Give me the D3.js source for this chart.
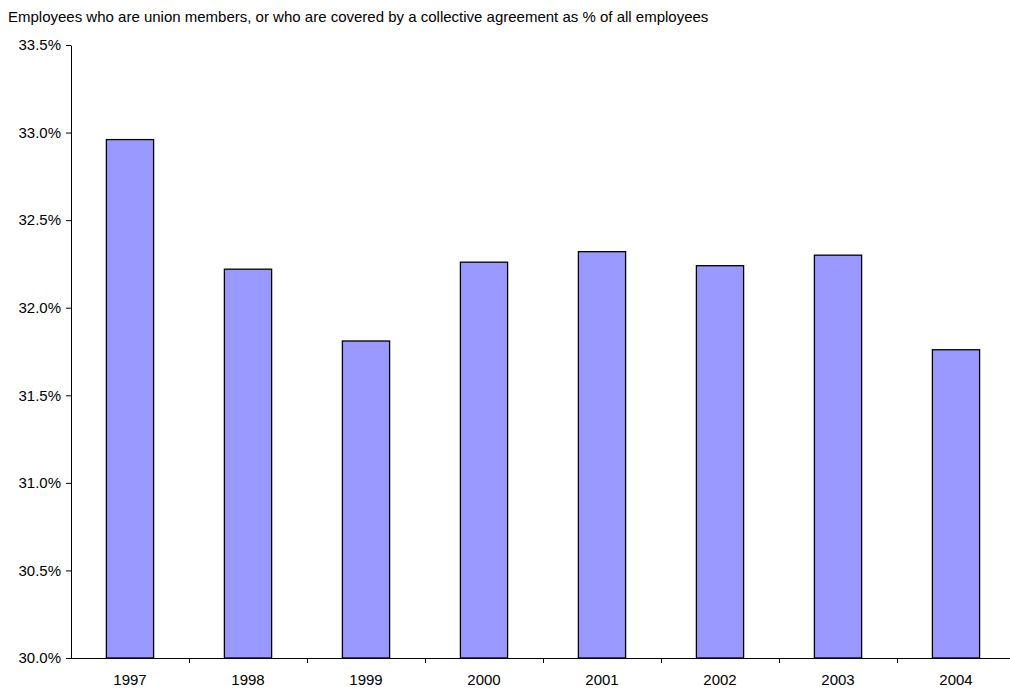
<!DOCTYPE html>
<html lang="en">
<head>
    <meta charset="UTF-8">
    <title>Union membership</title>
    <script src="https://d3js.org/d3.v7.min.js"></script>
    <style>
        body {
            margin: 0;
            background: white;
            font-family: 'Liberation Sans', Arial, sans-serif;
        }
        .title {
            font-size: 15px;
            fill: #000;
        }
        .axis text {
            font-size: 15px;
            fill: #000;
            font-family: 'Liberation Sans', Arial, sans-serif;
        }
        .axis path, .axis line {
            stroke: #000;
        }
    </style>
</head>
<body>
    <div id="chart"></div>
    <script>
        // Data
        const years = ["1997", "1998", "1999", "2000", "2001", "2002", "2003", "2004"];
        const shares = [32.96, 32.22, 31.81, 32.26, 32.32, 32.24, 32.30, 31.76];
        const yTicks = [30.0, 30.5, 31.0, 31.5, 32.0, 32.5, 33.0, 33.5];

        const width = 1010;
        const height = 689;
        const margin = { top: 45, right: -5, bottom: 31, left: 71 };

        const svg = d3.select("#chart")
            .append("svg")
            .attr("width", width)
            .attr("height", height);

        svg.append("text")
            .attr("class", "title")
            .attr("x", 8)
            .attr("y", 22)
            .text("Employees who are union members, or who are covered by a collective agreement as % of all employees");

        const x = d3.scaleBand()
            .domain(years)
            .range([margin.left, width - margin.right])
            .paddingInner(0.6)
            .paddingOuter(0.3);

        const y = d3.scaleLinear()
            .domain([30, 33.5])
            .range([height - margin.bottom, margin.top]);

        // bars
        svg.selectAll("rect.bar")
            .data(years.map((yr, i) => ({ year: yr, value: shares[i] })))
            .enter()
            .append("rect")
            .attr("class", "bar")
            .attr("x", d => x(d.year))
            .attr("y", d => y(d.value))
            .attr("width", x.bandwidth())
            .attr("height", d => y(30) - y(d.value))
            .attr("fill", "#9999ff")
            .attr("stroke", "#000")
            .attr("stroke-width", 1.3);

        // y axis
        svg.append("g")
            .attr("class", "axis")
            .attr("transform", `translate(${margin.left},0)`)
            .call(d3.axisLeft(y)
                .tickValues(yTicks)
                .tickFormat(d => d.toFixed(1) + "%")
                .tickSize(5)
                .tickSizeOuter(0)
                .tickPadding(5));

        // x axis: line, ticks between categories, labels centred
        const xAxis = svg.append("g")
            .attr("class", "axis")
            .attr("transform", `translate(0,${y(30)})`);

        const step = x.step();
        xAxis.append("line")
            .attr("x1", margin.left)
            .attr("x2", width - margin.right)
            .attr("y1", 0.5)
            .attr("y2", 0.5);

        xAxis.selectAll("line.tick")
            .data(years.slice(1))
            .enter()
            .append("line")
            .attr("class", "tick")
            .attr("x1", d => Math.round(x(d) - (step - x.bandwidth()) / 2) + 0.5)
            .attr("x2", d => Math.round(x(d) - (step - x.bandwidth()) / 2) + 0.5)
            .attr("y1", 0)
            .attr("y2", 5);

        xAxis.selectAll("text")
            .data(years)
            .enter()
            .append("text")
            .attr("x", d => x(d) + x.bandwidth() / 2)
            .attr("y", 27)
            .attr("text-anchor", "middle")
            .text(d => d);
    </script>
</body>
</html>
